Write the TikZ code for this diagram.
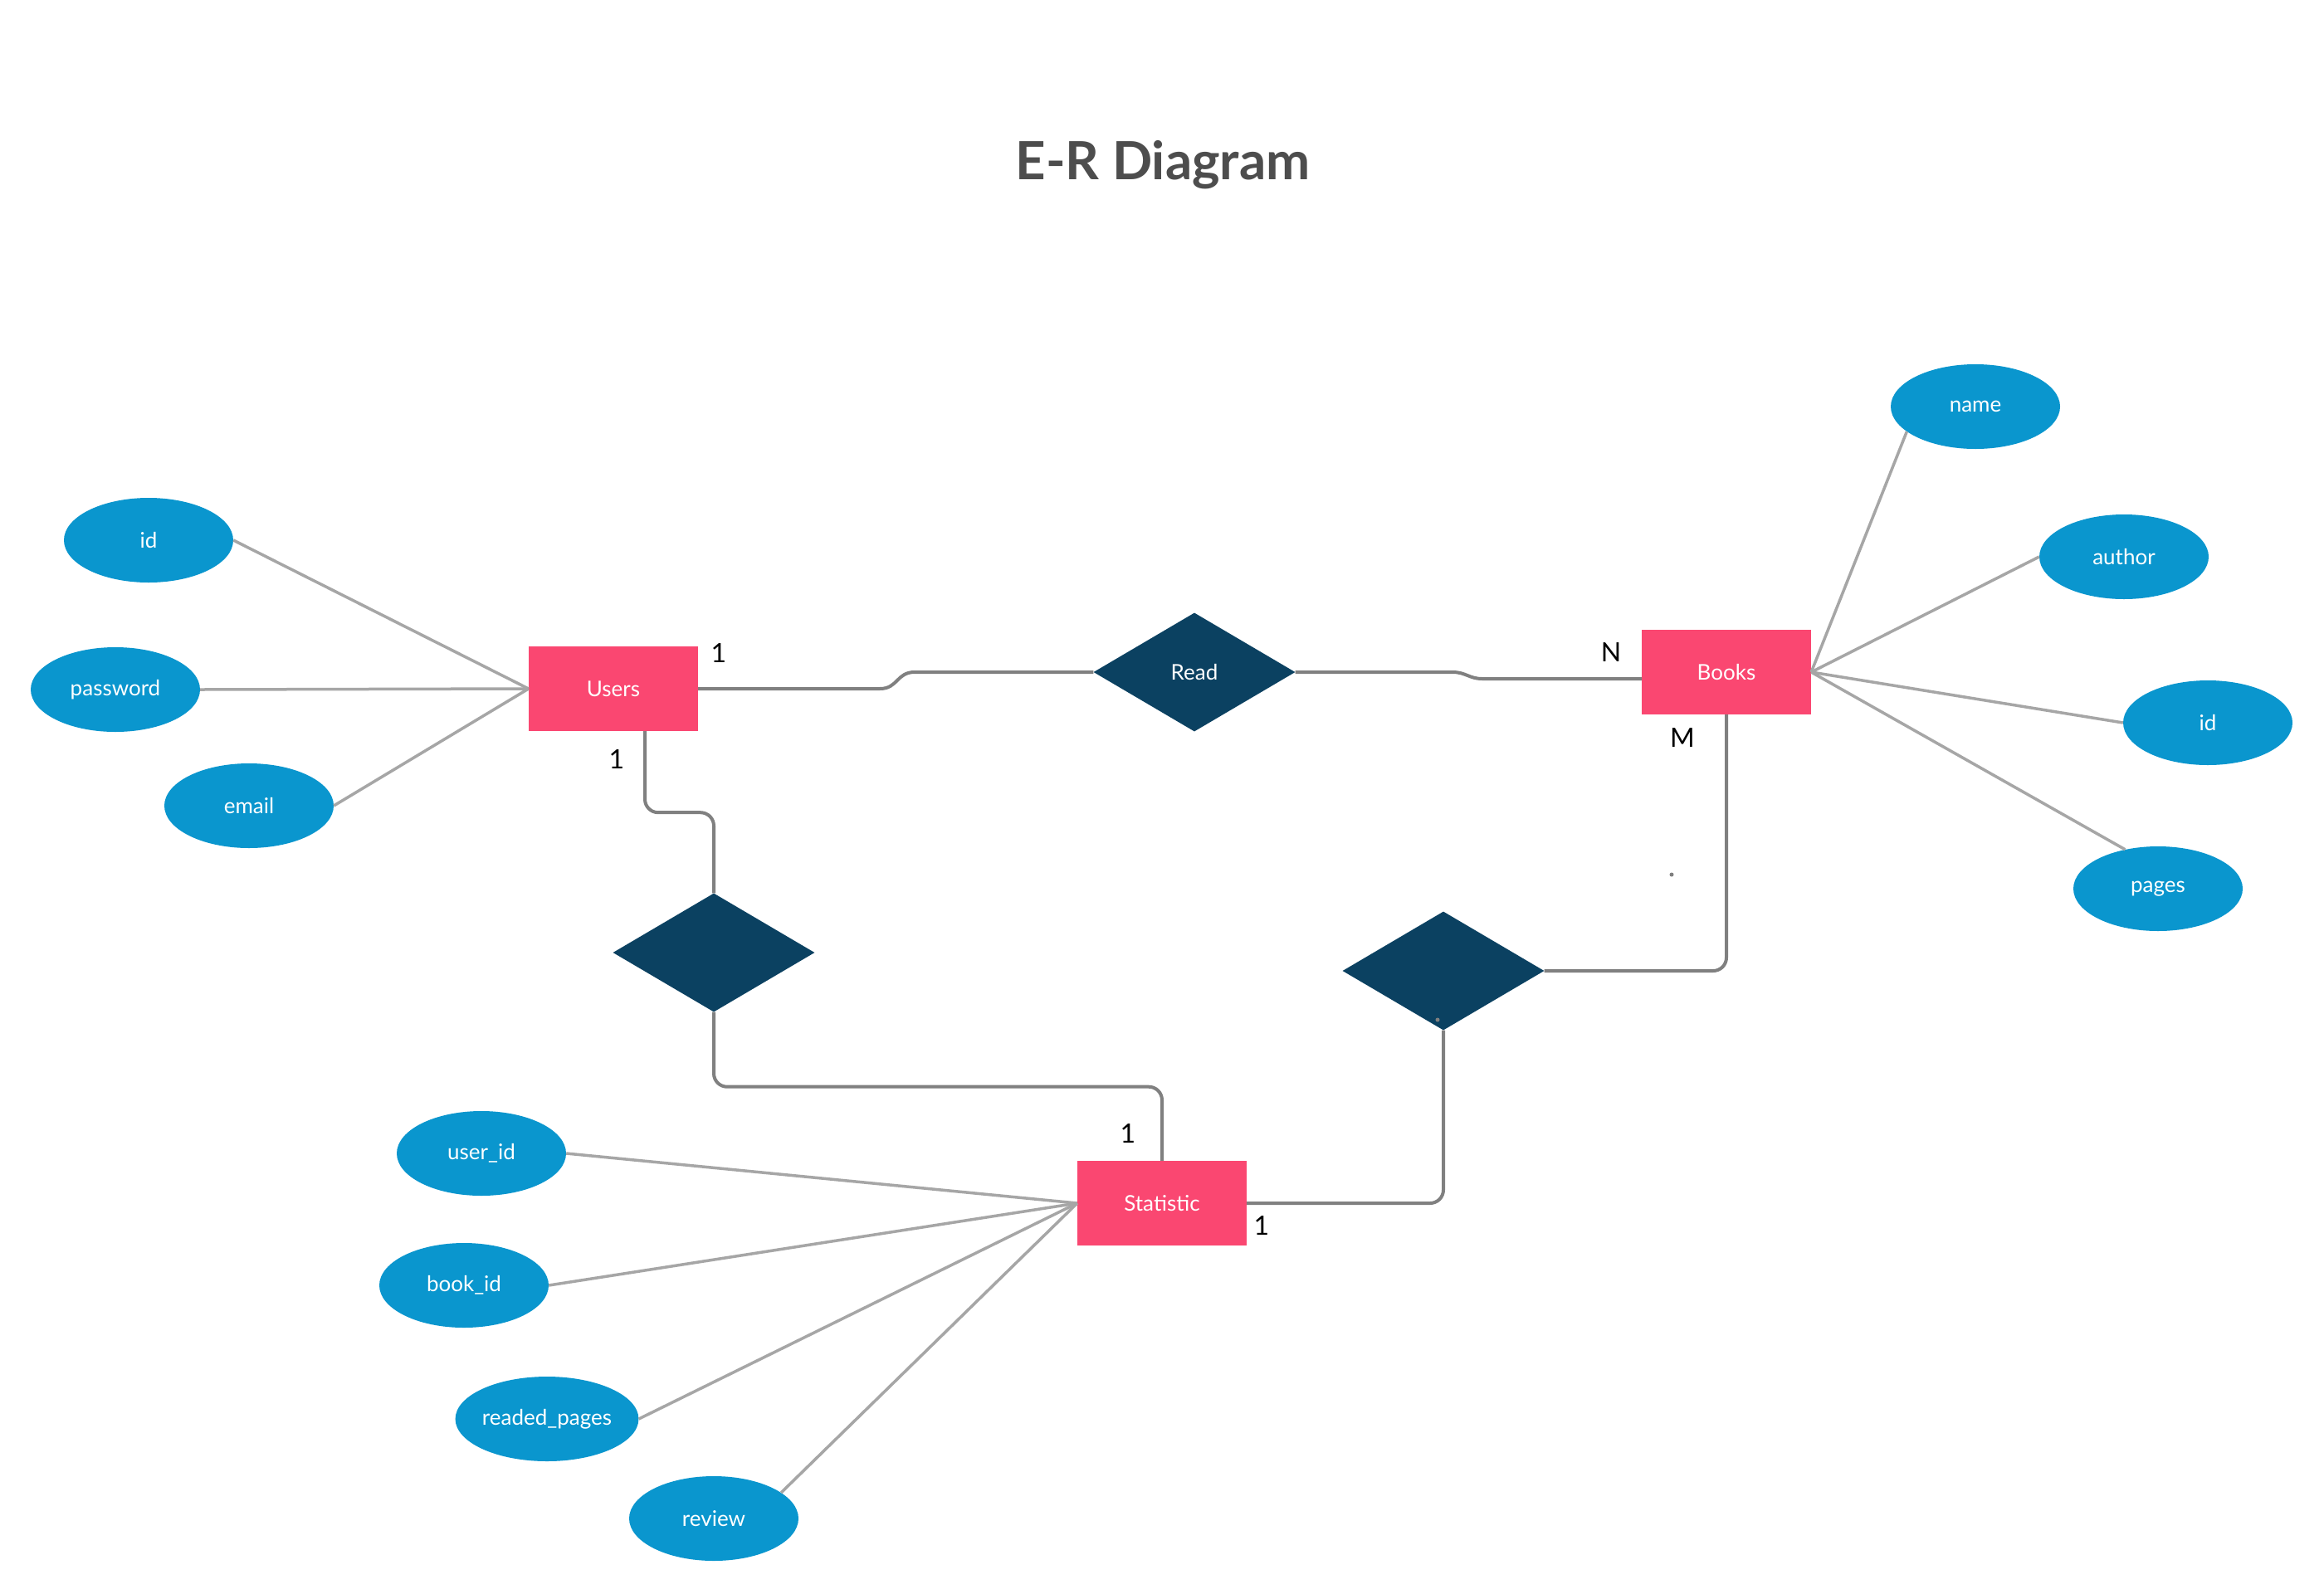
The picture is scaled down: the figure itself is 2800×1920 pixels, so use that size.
\documentclass[tikz,border=0pt]{standalone}
\usepackage{fontspec}
\setmainfont{Lato}
\usetikzlibrary{shapes.geometric}
\definecolor{entpink}{HTML}{FA4771}
\definecolor{attblue}{HTML}{0A96CE}
\definecolor{reldark}{HTML}{0B4161}
\definecolor{titlegray}{HTML}{4D4D4D}
\definecolor{attline}{HTML}{A6A6A6}
\definecolor{relline}{HTML}{808080}
\begin{document}
\begin{tikzpicture}[x=1pt,y=-1pt,
  entity/.style={rectangle,fill=entpink,minimum width=204pt,minimum height=102pt,inner sep=0pt,text=white,font=\fontsize{26}{31}\selectfont},
  attrib/.style={ellipse,fill=attblue,minimum width=204pt,minimum height=102pt,inner sep=0pt,text=white,font=\fontsize{26}{31}\selectfont},
  relation/.style={diamond,fill=reldark,minimum width=243pt,minimum height=143pt,inner sep=0pt,text=white,font=\fontsize{26}{31}\selectfont},
  attedge/.style={draw=attline,line width=3.5pt},
  reledge/.style={draw=relline,line width=4pt,rounded corners=16pt},
  card/.style={text=black,font=\fontsize{32}{38}\selectfont,inner sep=0pt},
  dotmark/.style={circle,fill=relline,inner sep=0pt,minimum size=5pt}
]
\useasboundingbox (0,0) rectangle (2800,1920);
\fill[white] (0,0) rectangle (2800,1920);

\node[text=titlegray,font=\fontsize{63.5}{76}\bfseries\selectfont] (title) at (1401,199) {E-R Diagram};

% entities
\node[entity] (users) at (739,830) {Users};
\node[entity] (books) at (2080,810) {Books};
\node[entity] (stat) at (1400,1450) {Statistic};

% relationships
\node[relation] (read) at (1439,810) {Read};
\node[relation] (d2) at (860,1148) {};
\node[relation] (d3) at (1739,1170) {};

% attributes
\node[attrib] (uid) at (179,651) {id};
\node[attrib] (pwd) at (139,831) {password};
\node[attrib] (email) at (300,971) {email};
\node[attrib] (name) at (2380,490) {name};
\node[attrib] (author) at (2559,671) {author};
\node[attrib] (bid) at (2660,871) {id};
\node[attrib] (pages) at (2600,1071) {pages};
\node[attrib] (userid) at (580,1390) {user\_id};
\node[attrib] (bookid) at (559,1549) {book\_id};
\node[attrib] (rpages) at (659,1710) {readed\_pages};
\node[attrib] (review) at (860,1830) {review};

% attribute connectors
\draw[attedge] (users.west) -- (uid.east);
\draw[attedge] (users.west) -- (pwd.east);
\draw[attedge] (users.west) -- (email.east);
\draw[attedge] (books.east) -- (name.200);
\draw[attedge] (books.east) -- (author.west);
\draw[attedge] (books.east) -- (bid.west);
\draw[attedge] (books.east) -- (pages.130);
\draw[attedge] (stat.west) -- (userid.east);
\draw[attedge] (stat.west) -- (bookid.east);
\draw[attedge] (stat.west) -- (rpages.east);
\draw[attedge] (stat.west) -- (review.21);

% relationship connectors
\coordinate (ur1) at (1060,830);
\coordinate (ur2) at (1102,810);
\draw[draw=relline,line width=4pt] (users.east) -- (ur1) .. controls (1082,830) and (1080,810) .. (ur2) -- (read.west);
\coordinate (rb1) at (1750,810);
\coordinate (rb2) at (1786,818);
\draw[draw=relline,line width=4pt] (read.east) -- (rb1) .. controls (1766,810) and (1770,818) .. (rb2) -- ([yshift=-8pt]books.west);
\draw[reledge] ([xshift=38pt]users.south) -- ++(0,98) -| (d2.north);
\draw[reledge] (d2.south) -- ++(0,90) -| (stat.north);
\draw[reledge] (books.south) |- (d3.east);
\draw[reledge] (d3.south) |- (stat.east);

% cardinalities
\node[card] (c1) at (866,787) {1};
\node[card] (c2) at (743,915) {1};
\node[card] (c3) at (1941,786) {N};
\node[card] (c4) at (2027,889) {M};
\node[card] (c5) at (1359,1366) {1};
\node[card] (c6) at (1520,1477) {1};

% stray dots
\node[dotmark] (dot1) at (2014,1054) {};
\node[dotmark] (dot2) at (1732,1229) {};
\end{tikzpicture}
\end{document}
